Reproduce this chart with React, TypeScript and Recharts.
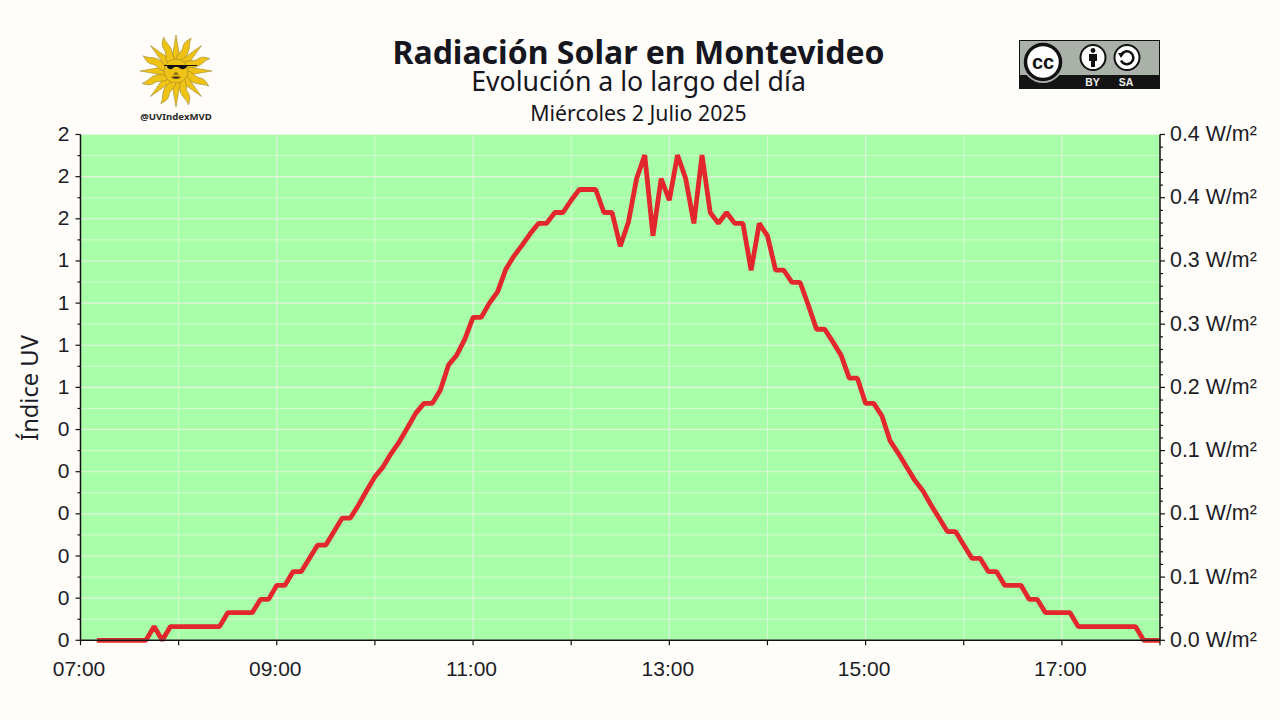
import React from 'react';
import { LineChart, Line, XAxis, YAxis, CartesianGrid, ReferenceLine } from 'recharts';

// time of each reading, every 5 minutes
const times = [
  '07:10', '07:15', '07:20', '07:25', '07:30', '07:35', '07:40', '07:45', '07:50', '07:55',
  '08:00', '08:05', '08:10', '08:15', '08:20', '08:25', '08:30', '08:35', '08:40', '08:45', '08:50', '08:55',
  '09:00', '09:05', '09:10', '09:15', '09:20', '09:25', '09:30', '09:35', '09:40', '09:45', '09:50', '09:55',
  '10:00', '10:05', '10:10', '10:15', '10:20', '10:25', '10:30', '10:35', '10:40', '10:45', '10:50', '10:55',
  '11:00', '11:05', '11:10', '11:15', '11:20', '11:25', '11:30', '11:35', '11:40', '11:45', '11:50', '11:55',
  '12:00', '12:05', '12:10', '12:15', '12:20', '12:25', '12:30', '12:35', '12:40', '12:45', '12:50', '12:55',
  '13:00', '13:05', '13:10', '13:15', '13:20', '13:25', '13:30', '13:35', '13:40', '13:45', '13:50', '13:55',
  '14:00', '14:05', '14:10', '14:15', '14:20', '14:25', '14:30', '14:35', '14:40', '14:45', '14:50', '14:55',
  '15:00', '15:05', '15:10', '15:15', '15:20', '15:25', '15:30', '15:35', '15:40', '15:45', '15:50', '15:55',
  '16:00', '16:05', '16:10', '16:15', '16:20', '16:25', '16:30', '16:35', '16:40', '16:45', '16:50', '16:55',
  '17:00', '17:05', '17:10', '17:15', '17:20', '17:25', '17:30', '17:35', '17:40', '17:45', '17:50', '17:55',
  '18:00',
];

// UV index
const uvValues = [
  0, 0, 0, 0, 0, 0, 0, 0.065, 0, 0.065,
  0.065, 0.065, 0.065, 0.065, 0.065, 0.065, 0.131, 0.131, 0.131, 0.131, 0.194, 0.194,
  0.261, 0.261, 0.326, 0.326, 0.389, 0.452, 0.452, 0.516, 0.58, 0.58, 0.642, 0.711,
  0.776, 0.823, 0.887, 0.943, 1.01, 1.078, 1.124, 1.124, 1.187, 1.306, 1.353, 1.429,
  1.532, 1.532, 1.6, 1.653, 1.76, 1.823, 1.875, 1.93, 1.978, 1.978, 2.03, 2.03,
  2.088, 2.139, 2.139, 2.139, 2.03, 2.03, 1.87, 1.985, 2.191, 2.302, 1.919, 2.191,
  2.088, 2.302, 2.191, 1.978, 2.302, 2.03, 1.978, 2.03, 1.978, 1.978, 1.756, 1.978,
  1.919, 1.756, 1.756, 1.698, 1.698, 1.59, 1.476, 1.476, 1.416, 1.353, 1.244, 1.244,
  1.124, 1.124, 1.064, 0.946, 0.887, 0.823, 0.76, 0.71, 0.642, 0.579, 0.516, 0.516,
  0.452, 0.389, 0.389, 0.326, 0.326, 0.261, 0.261, 0.261, 0.194, 0.194, 0.131, 0.131,
  0.131, 0.131, 0.065, 0.065, 0.065, 0.065, 0.065, 0.065, 0.065, 0.065, 0, 0,
  0,
];

const hourTicks = [420, 480, 540, 600, 660, 720, 780, 840, 900, 960, 1020, 1080];
const hourLabels: Record<number, string> = { 420: '07:00', 540: '09:00', 660: '11:00', 780: '13:00', 900: '15:00', 1020: '17:00' };
const majorHours = [420, 540, 660, 780, 900, 1020];
const minorHours = [480, 600, 720, 840, 960, 1080];

const uvMajor = [0, 0.2, 0.4, 0.6, 0.8, 1, 1.2, 1.4, 1.6, 1.8, 2, 2.2, 2.4];
const uvLabels = ['0', '0', '0', '0', '0', '0', '1', '1', '1', '1', '2', '2', '2'];
const uvMinor = [0.1, 0.3, 0.5, 0.7, 0.9, 1.1, 1.3, 1.5, 1.7, 1.9, 2.1, 2.3];

const radMajor = [0, 0.05, 0.1, 0.15, 0.2, 0.25, 0.3, 0.35, 0.4];
const radLabels = ['0.0 W/m²', '0.1 W/m²', '0.1 W/m²', '0.1 W/m²', '0.2 W/m²', '0.3 W/m²', '0.3 W/m²', '0.4 W/m²', '0.4 W/m²'];
const radMinor = [
  0.01, 0.02, 0.03, 0.04, 0.06, 0.07, 0.08, 0.09, 0.11, 0.12, 0.13, 0.14, 0.16, 0.17, 0.18, 0.19,
  0.21, 0.22, 0.23, 0.24, 0.26, 0.27, 0.28, 0.29, 0.31, 0.32, 0.33, 0.34, 0.36, 0.37, 0.38, 0.39,
];

const toMinutes = (t: string) => Number(t.slice(0, 2)) * 60 + Number(t.slice(3));
const data = times.map((t, i) => ({ minute: toMinutes(t), uv: uvValues[i] }));

const INK = '#1c1c26';
const TICK_FONT = '"Liberation Sans", Arial, sans-serif';
const TITLE_FONT = '"Noto Sans", sans-serif';

const XTick = ({ x, y, payload }: any) => {
  const label = hourLabels[payload.value];
  return (
    <g>
      <line x1={x} x2={x} y1={y} y2={y + 5} stroke="#111" strokeWidth={1.2} />
      {label && <text x={x - 1.5} y={y + 35.5} textAnchor="middle" fontFamily={TICK_FONT} fontSize={21} fill={INK}>{label}</text>}
    </g>
  );
};

const LeftTick = ({ x, y, payload }: any) => {
  const i = uvMajor.indexOf(payload.value);
  return (
    <g>
      <line x1={x - (i >= 0 ? 5 : 3)} x2={x} y1={y} y2={y} stroke="#111" strokeWidth={1.2} />
      {i >= 0 && <text x={x - 11} y={y + 6.5} textAnchor="end" fontFamily={TICK_FONT} fontSize={21} fill={INK}>{uvLabels[i]}</text>}
    </g>
  );
};

const RightTick = ({ x, y, payload }: any) => {
  const i = radMajor.indexOf(payload.value);
  return (
    <g>
      <line x1={x} x2={x + (i >= 0 ? 5 : 3)} y1={y} y2={y} stroke="#111" strokeWidth={1.2} />
      {i >= 0 && <text x={x + 10} y={y + 6.5} textAnchor="start" fontFamily={TICK_FONT} fontSize={21.4} fill={INK}>{radLabels[i]}</text>}
    </g>
  );
};

// straight and wavy rays of the sun, drawn pointing up from the centre
const STRAIGHT_RAY = 'M-4.5,-10 L0,-36 L4.5,-10 Z';
const WAVY_RAY = 'M-4.5,-10 C-6,-17 -1,-20 -3,-26 C-3.5,-30 -1,-33 1.5,-36 C1,-31 4,-27 4,-22 C4,-17 2,-14 4,-10 Z';
const rayAngles = [0, 22.5, 45, 67.5, 90, 112.5, 135, 157.5, 180, 202.5, 225, 247.5, 270, 292.5, 315, 337.5];

const SunLogo = () => (
  <div style={{ position: 'absolute', left: 130, top: 30, width: 92, height: 100 }}>
    <svg width={92} height={82} style={{ position: 'absolute', left: 0, top: 0 }}>
      <g transform="translate(46,41)">
        {rayAngles.map((a, i) => (
          <path key={a} d={i % 2 === 0 ? STRAIGHT_RAY : WAVY_RAY} transform={`rotate(${a})`} fill="#efc316" stroke="#8d7a2a" strokeWidth={0.5} />
        ))}
        <circle r={12} fill="#efc316" stroke="#8d7a2a" strokeWidth={0.5} />
        <path d="M-12,-6 L21,-6 L21,-5 L11,-5 C10,-1 4,-1 2.5,-4 L-2,-4 C-3,-1 -9,-1 -9,-5 L-12,-5 Z" fill="#111" />
        <path d="M-1,1 L-3,4 L3,4 L1,1 Z" fill="#9a7a14" />
        <path d="M-5,6 Q0,4.5 5,6 Q0,10 -5,6 Z" fill="#4d3d10" />
      </g>
    </svg>
    <div style={{ position: 'absolute', left: 0, width: 92, top: 81, textAlign: 'center', fontFamily: TITLE_FONT, fontWeight: 700, fontSize: 9.6, color: '#2a2a2a', lineHeight: '12px' }}>
      @UVIndexMVD
    </div>
  </div>
);

const CcBadge = () => (
  <svg width={142} height={50} style={{ position: 'absolute', left: 1019, top: 40 }}>
    <rect x={0.5} y={0.5} width={140} height={48} fill="#aab1a9" stroke="#111" />
    <rect x={0} y={35} width={141} height={14} fill="#141414" />
    <circle cx={24} cy={22} r={21} fill="#aab1a9" />
    <circle cx={24} cy={22} r={17.5} fill="#fff" stroke="#111" strokeWidth={3.5} />
    <text x={24} y={28.5} textAnchor="middle" fontFamily={TICK_FONT} fontWeight={700} fontSize={20} fill="#111">cc</text>
    <circle cx={74} cy={17.5} r={12.5} fill="#fff" stroke="#111" strokeWidth={2} />
    <circle cx={74} cy={10.5} r={2.4} fill="#111" />
    <path d="M70,14 H78 V21 H76 V27 H72 V21 H70 Z" fill="#111" />
    <circle cx={108} cy={17.5} r={12.5} fill="#fff" stroke="#111" strokeWidth={2} />
    <path d="M102,15 A6.5,6.5 0 1 1 102,20.5" fill="none" stroke="#111" strokeWidth={2.6} />
    <path d="M99,13 L105.5,13 L102,18 Z" fill="#111" />
    <text x={73.5} y={46} textAnchor="middle" fontFamily={TICK_FONT} fontWeight={700} fontSize={10.5} fill="#eee">BY</text>
    <text x={107} y={46} textAnchor="middle" fontFamily={TICK_FONT} fontWeight={700} fontSize={10.5} fill="#eee">SA</text>
  </svg>
);

const Heading = ({ top, size, weight, children }: any) => (
  <div style={{ position: 'absolute', left: 0, width: 1277, top, textAlign: 'center', fontFamily: TITLE_FONT, fontSize: size, fontWeight: weight, color: '#16161e', lineHeight: 1 }}>
    {children}
  </div>
);

export default function App() {
  return (
    <div style={{ position: 'absolute', left: 0, top: 0, width: 1280, height: 720, background: '#fffdf9', overflow: 'hidden' }}>
      <Heading top={36} size={32} weight={700}>Radiación Solar en Montevideo</Heading>
      <Heading top={68} size={26.7} weight={400}>Evolución a lo largo del día</Heading>
      <Heading top={102} size={21.3} weight={400}>Miércoles 2 Julio 2025</Heading>
      <SunLogo />
      <CcBadge />
      <LineChart
        width={1280}
        height={720}
        data={data}
        margin={{ top: 134.5, right: 60, bottom: 49.7, left: 20.5 }}
        style={{ position: 'absolute', left: 0, top: 0 }}
      >
        <CartesianGrid fill="#a9ffa9" fillOpacity={1} stroke="#d4fbcf" strokeWidth={1} horizontalValues={uvMinor} verticalValues={minorHours} />
        <CartesianGrid stroke="#e4f2de" strokeWidth={1.1} horizontalValues={uvMajor} verticalValues={majorHours} />
        <Line dataKey="uv" type="linear" stroke="#e2282d" strokeWidth={4.8} strokeLinejoin="bevel" dot={false} isAnimationActive={false} />
        {/* keeps the right axis alive, it has no visible series of its own */}
        <Line yAxisId="rad" dataKey="uv" stroke="none" dot={false} legendType="none" isAnimationActive={false} />
        <ReferenceLine y={0} stroke="#e8f3e3" strokeWidth={1.2} />
        <XAxis
          dataKey="minute"
          type="number"
          domain={[420, 1080]}
          ticks={hourTicks}
          interval={0}
          height={30}
          tickSize={0}
          tickMargin={0}
          tickLine={false}
          stroke="#111"
          strokeWidth={1.5}
          tick={XTick}
        />
        <YAxis
          type="number"
          domain={[0, 2.4]}
          ticks={[...uvMajor, ...uvMinor].sort((a, b) => a - b)}
          interval={0}
          width={60}
          tickSize={0}
          tickMargin={0}
          tickLine={false}
          stroke="#111"
          strokeWidth={1.5}
          tick={LeftTick}
        />
        <YAxis
          yAxisId="rad"
          orientation="right"
          type="number"
          domain={[0, 0.4]}
          allowDataOverflow
          ticks={[...radMajor, ...radMinor].sort((a, b) => a - b)}
          interval={0}
          width={60}
          tickSize={0}
          tickMargin={0}
          tickLine={false}
          stroke="#111"
          strokeWidth={1.5}
          tick={RightTick}
        />
      </LineChart>
      <svg width={60} height={200} style={{ position: 'absolute', left: 0, top: 288 }}>
        <text transform="translate(38,100) rotate(-90)" textAnchor="middle" fontFamily={TITLE_FONT} fontSize={23.7} fill={INK}>Índice UV</text>
      </svg>
    </div>
  );
}
